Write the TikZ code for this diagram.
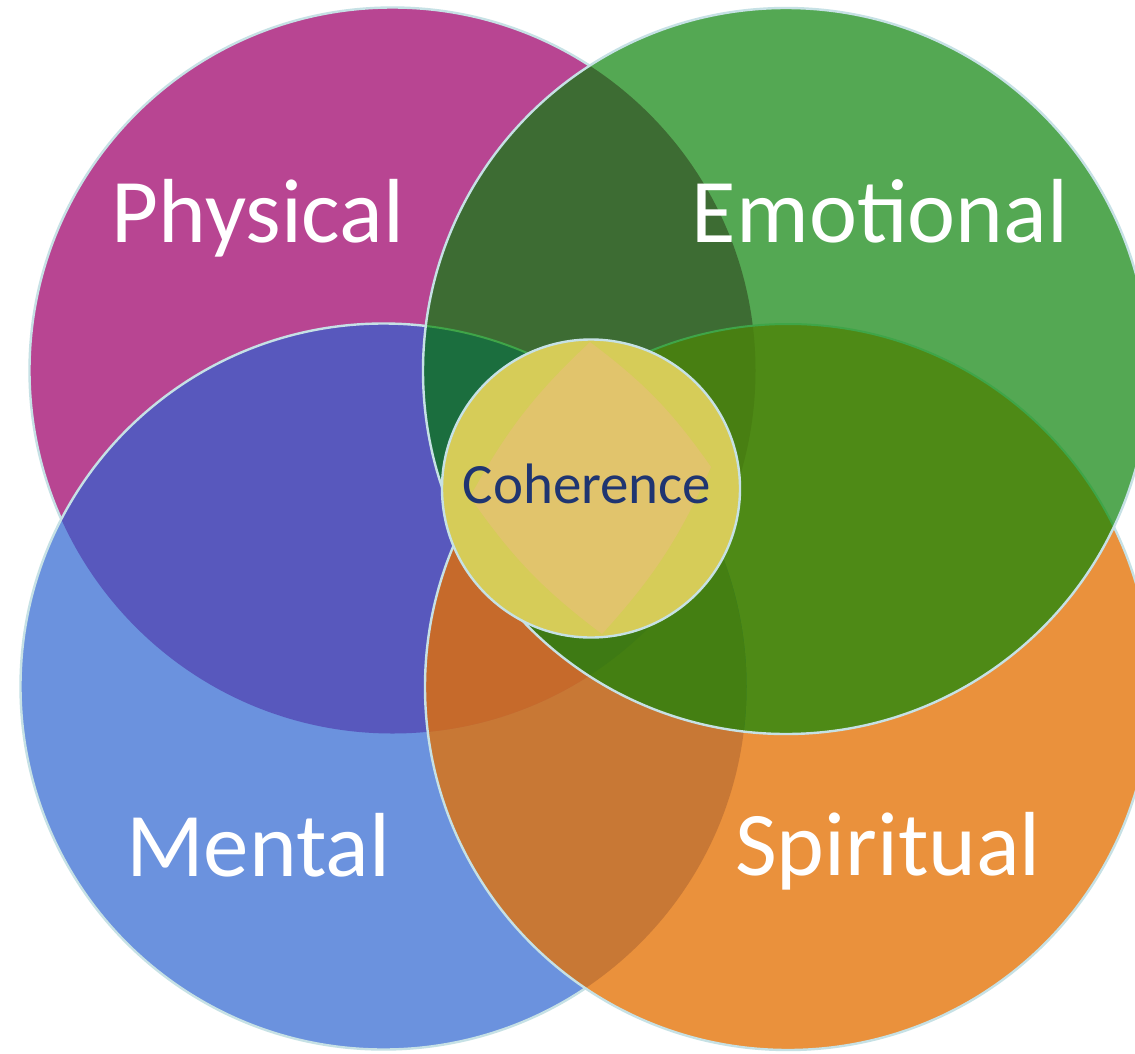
\documentclass[tikz,border=0pt]{standalone}
\usepackage{fontspec}
\setmainfont{Carlito}
\definecolor{colP}{HTML}{B84592}
\definecolor{colM}{HTML}{6B92DE}
\definecolor{colPM}{HTML}{5858BD}
\definecolor{colS}{HTML}{EA913C}
\definecolor{colMS}{HTML}{C87835}
\definecolor{colPS}{HTML}{C06A3A}
\definecolor{colPMS}{HTML}{C66A2B}
\definecolor{colE}{HTML}{54A853}
\definecolor{colPE}{HTML}{3D6C33}
\definecolor{colEM}{HTML}{2F7A2A}
\definecolor{colES}{HTML}{4E8A16}
\definecolor{colPEM}{HTML}{1B6E3E}
\definecolor{colPES}{HTML}{487F12}
\definecolor{colEMS}{HTML}{447F12}
\definecolor{colPEMS}{HTML}{3E7A14}
\definecolor{colC}{HTML}{D6CC58}
\definecolor{colD}{HTML}{E1C46C}
\definecolor{lineC}{HTML}{C6E1E5}
\definecolor{lineG}{HTML}{3FA548}
\definecolor{cohText}{HTML}{1F3571}
\tikzset{
  outl/.style={draw=lineC, line width=2.4pt},
  undergreen/.style={draw=lineG, line width=2pt},
  biglabel/.style={text=white, font=\fontsize{91}{91}\selectfont, anchor=base, inner sep=0pt},
  smalllabel/.style={text=cohText, font=\fontsize{57}{57}\selectfont, anchor=base, inner sep=0pt}
}
\begin{document}
\begin{tikzpicture}[x=1pt,y=-1pt]
\useasboundingbox (0,0) rectangle (1135,1053);
\fill[white] (0,0) rectangle (1135,1053);
\def\R{363pt}
\coordinate (P) at (392.5,370.5);
\coordinate (E) at (786,371);
\coordinate (M) at (383.5,686.5);
\coordinate (S) at (788,687);
\coordinate (C) at (591,488.5);
% ---- layer Physical
\fill[colP] (P) circle[radius=\R];
\draw[outl] (P) circle[radius=\R];
% ---- layer Mental
\fill[colM] (M) circle[radius=\R];
\begin{scope}
  \clip (M) circle[radius=\R];
  \fill[colPM] (P) circle[radius=\R];
\end{scope}
\draw[outl] (M) circle[radius=\R];
% ---- layer Spiritual
\fill[colS] (S) circle[radius=\R];
\begin{scope}
  \clip (S) circle[radius=\R];
  \fill[colMS] (M) circle[radius=\R];
  \fill[colPS] (P) circle[radius=\R];
  \clip (P) circle[radius=\R];
  \fill[colPMS] (M) circle[radius=\R];
\end{scope}
\draw[outl] (S) circle[radius=\R];
% ---- layer Emotional
\fill[colE] (E) circle[radius=\R];
\begin{scope}
  \clip (E) circle[radius=\R];
  \fill[colPE] (P) circle[radius=\R];
  \fill[colES] (S) circle[radius=\R];
  \fill[colEM] (M) circle[radius=\R];
  \begin{scope}
    \clip (P) circle[radius=\R];
    \fill[colPES] (S) circle[radius=\R];
    \fill[colPEM] (M) circle[radius=\R];
  \end{scope}
  \begin{scope}
    \clip (M) circle[radius=\R];
    \fill[colEMS] (S) circle[radius=\R];
    \clip (P) circle[radius=\R];
    \fill[colPEMS] (S) circle[radius=\R];
  \end{scope}
  \begin{scope}
    \clip (0,0) rectangle (1135,470);
    \draw[undergreen] (M) circle[radius=\R];
  \end{scope}
  \draw[undergreen] (S) circle[radius=\R];
\end{scope}
\draw[outl] (E) circle[radius=\R];
% ---- Coherence circle
\fill[colC] (C) circle[radius=149pt];
\begin{scope}
  \clip (C) circle[radius=149pt];
  \fill[colD] (590,342) to[bend left=9] (711,467) to[bend left=9] (602,634) to[bend left=9] (470,497) to[bend left=9] cycle;
\end{scope}
\draw[outl] (C) circle[radius=149pt];
% ---- labels
\node[biglabel] (lphys) at (258,242) {Physical};
\node[biglabel] (lemo) at (880,242) {Emotional};
\node[biglabel] (lment) at (258,876) {Mental};
\node[biglabel] (lspir) at (888,875) {Spiritual};
\node[smalllabel] (lcoh) at (587,503) {Coherence};
\end{tikzpicture}
\end{document}
